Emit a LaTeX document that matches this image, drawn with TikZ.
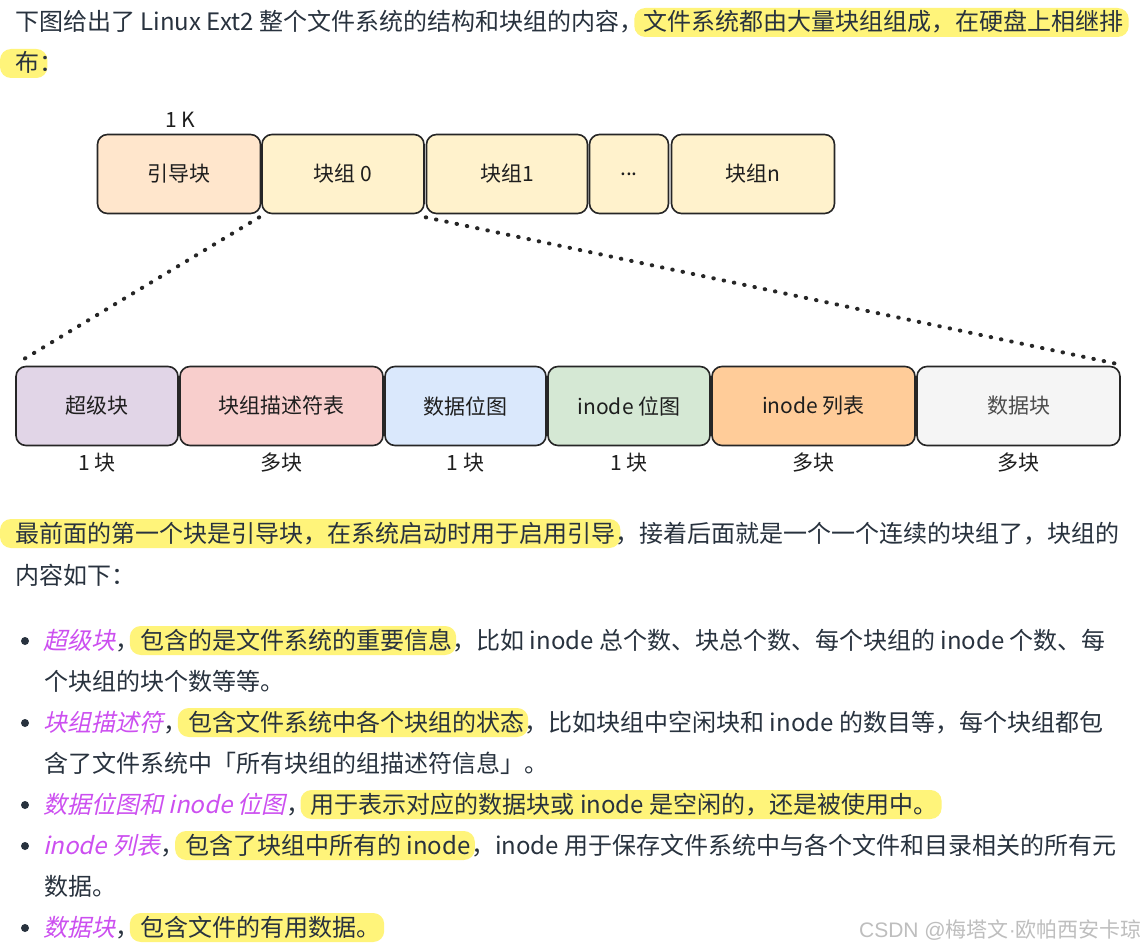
\documentclass[tikz,border=0pt]{standalone}
\usepackage{fontspec}
\setmainfont{Noto Sans CJK SC}
\newfontfamily\itf[FakeSlant=0.22]{Noto Sans CJK SC}
\newfontfamily\lsans{Liberation Sans}
\usetikzlibrary{backgrounds}
\pgfdeclarelayer{bgzero}
\pgfsetlayers{bgzero,background,main}
\definecolor{txt}{HTML}{28323E}
\definecolor{hly}{HTML}{FFF47A}
\definecolor{pur}{HTML}{CC4FF0}
\definecolor{bord}{HTML}{262626}
\definecolor{boxtxt}{HTML}{1E1E1E}
\definecolor{cboot}{HTML}{FFE6CC}
\definecolor{cgrp}{HTML}{FFF2CC}
\definecolor{csb}{HTML}{E1D5E7}
\definecolor{cgd}{HTML}{F8CECC}
\definecolor{cdbm}{HTML}{DAE8FC}
\definecolor{cibm}{HTML}{D5E8D4}
\definecolor{cit}{HTML}{FFCC99}
\definecolor{cdb}{HTML}{F5F5F5}
\definecolor{wm}{HTML}{BEBEBE}
\tikzset{
  t/.style={inner sep=0pt, anchor=base west, text=txt, font=\fontsize{24}{28}\selectfont},
  pu/.style={inner sep=0pt, anchor=base west, text=pur, font=\fontsize{24}{28}\selectfont\itf},
  box/.style={draw=bord, line width=1.6pt, rounded corners=10pt, minimum height=79pt,
    inner sep=0pt, font=\fontsize{21}{24}\selectfont, text=boxtxt},
  lab/.style={font=\fontsize{21}{24}\selectfont, text=boxtxt, inner sep=0pt},
  dots/.style={draw=black!85, line width=4pt, line cap=round, dash pattern=on 0.5pt off 10pt},
  hl/.style={fill=hly, rounded corners=11pt},
  bul/.style={fill=txt},
}
\begin{document}
\begin{tikzpicture}[x=1pt,y=-1pt]
\begin{pgfonlayer}{bgzero}
\fill[white] (0,0) rectangle (1146,950);
\end{pgfonlayer}
\useasboundingbox (0,0) rectangle (1146,950);

% ---------- intro text ----------
\node[t] (l1a) at (15,31) {下图给出了 Linux Ext2 整个文件系统的结构和块组的内容，};
\node[t] (l1b) at (l1a.base east) {文件系统都由大量块组组成，在硬盘上相继排};
\node[t] (l2a) at (15,72) {布};
\node[t] (l2b) at (l2a.base east) {：};

% ---------- diagram top row ----------
\node[lab] (onek) at (180,120) {1 K};
\node[box, fill=cboot, minimum width=163pt] (boot) at (179,174) {引导块};
\node[box, fill=cgrp, minimum width=162pt] (g0) at (343,174) {块组 0};
\node[box, fill=cgrp, minimum width=161pt] (g1) at (507,174) {块组1};
\node[box, fill=cgrp, minimum width=79pt] (gd) at (629,174) {...};
\node[box, fill=cgrp, minimum width=163pt] (gn) at (753,174) {块组n};

% ---------- diagram bottom row ----------
\node[box, fill=csb, minimum width=162pt] (sb) at (97,406) {超级块};
\node[box, fill=cgd, minimum width=203pt] (gdt) at (281.5,406) {块组描述符表};
\node[box, fill=cdbm, minimum width=161pt] (dbm) at (465.5,406) {数据位图};
\node[box, fill=cibm, minimum width=162pt] (ibm) at (629,406) {inode 位图};
\node[box, fill=cit, minimum width=203pt] (itb) at (813.5,406) {inode 列表};
\node[box, fill=cdb, minimum width=203pt, text=black!70] (dblk) at (1018.5,406) {数据块};

\node[lab] (u1) at (97,463) {1 块};
\node[lab] (u2) at (281.5,463) {多块};
\node[lab] (u3) at (465.5,463) {1 块};
\node[lab] (u4) at (629,463) {1 块};
\node[lab] (u5) at (813.5,463) {多块};
\node[lab] (u6) at (1018.5,463) {多块};

\draw[dots] ([shift={(-2pt,-3pt)}]g0.south west) -- ([shift={(6pt,5pt)}]sb.north west);
\draw[dots] ([shift={(0pt,-3pt)}]g1.south west) -- ([shift={(0pt,1pt)}]dblk.north east);

% ---------- paragraph ----------
\node[t] (p1a) at (15,542) {最前面的第一个块是引导块，在系统启动时用于启用引导};
\node[t] (p1b) at (p1a.base east) {，接着后面就是一个一个连续的块组了，块组的};
\node[t] (p2a) at (15,584) {内容如下：};

% ---------- bullets ----------
\foreach \yy in {640,722,804,845,927} \fill[bul] (25,\yy+1) circle (4pt);

\node[pu] (b1a) at (43,649) {超级块};
\node[t] (b1b) at (b1a.base east) {，};
\node[t] (b1c) at (b1b.base east) {包含的是文件系统的重要信息};
\node[t] (b1d) at (b1c.base east) {，比如 inode 总个数、块总个数、每个块组的 inode 个数、每};
\node[t] (b1e) at (44,690) {个块组的块个数等等。};

\node[pu] (b2a) at (43,731) {块组描述符};
\node[t] (b2b) at (b2a.base east) {，};
\node[t] (b2c) at (b2b.base east) {包含文件系统中各个块组的状态};
\node[t] (b2d) at (b2c.base east) {，比如块组中空闲块和 inode 的数目等，每个块组都包};
\node[t] (b2e) at (44,772) {含了文件系统中「所有块组的组描述符信息」。};

\node[pu] (b3a) at (43,813) {数据位图和 inode 位图};
\node[t] (b3b) at (b3a.base east) {，};
\node[t] (b3c) at (b3b.base east) {用于表示对应的数据块或 inode 是空闲的，还是被使用中。};

\node[pu] (b4a) at (43,854) {inode 列表};
\node[t] (b4b) at (b4a.base east) {，};
\node[t] (b4c) at (b4b.base east) {包含了块组中所有的 inode};
\node[t] (b4d) at (b4c.base east) {，inode 用于保存文件系统中与各个文件和目录相关的所有元};
\node[t] (b4e) at (44,895) {数据。};

\node[pu] (b5a) at (43,936) {数据块};
\node[t] (b5b) at (b5a.base east) {，};
\node[t] (b5c) at (b5b.base east) {包含文件的有用数据。};

% ---------- watermark ----------
\node[inner sep=0pt, text=wm, font=\fontsize{21}{24}\selectfont, anchor=east] (wmk) at (1142,930) {{\lsans CSDN @}梅塔文{\lsans ·}欧帕西安卡琼};

% ---------- highlights ----------
\begin{scope}[on background layer]
\fill[hl] ([shift={(-9pt,-6pt)}]l1b.base west) rectangle ([shift={(5pt,23pt)}]l1b.base east);
\fill[hl] ([shift={(-15pt,-6pt)}]l2a.base west) rectangle ([shift={(8pt,23pt)}]l2a.base east);
\fill[hl] ([shift={(-15pt,-6pt)}]p1a.base west) rectangle ([shift={(5pt,23pt)}]p1a.base east);
\fill[hl] ([shift={(-10pt,-6pt)}]b1c.base west) rectangle ([shift={(4pt,23pt)}]b1c.base east);
\fill[hl] ([shift={(-10pt,-6pt)}]b2c.base west) rectangle ([shift={(4pt,23pt)}]b2c.base east);
\fill[hl] ([shift={(-10pt,-6pt)}]b3c.base west) rectangle ([shift={(4pt,23pt)}]b3c.base east);
\fill[hl] ([shift={(-10pt,-6pt)}]b4c.base west) rectangle ([shift={(4pt,23pt)}]b4c.base east);
\fill[hl] ([shift={(-10pt,-6pt)}]b5c.base west) rectangle ([shift={(4pt,23pt)}]b5c.base east);
\end{scope}
\end{tikzpicture}
\end{document}
